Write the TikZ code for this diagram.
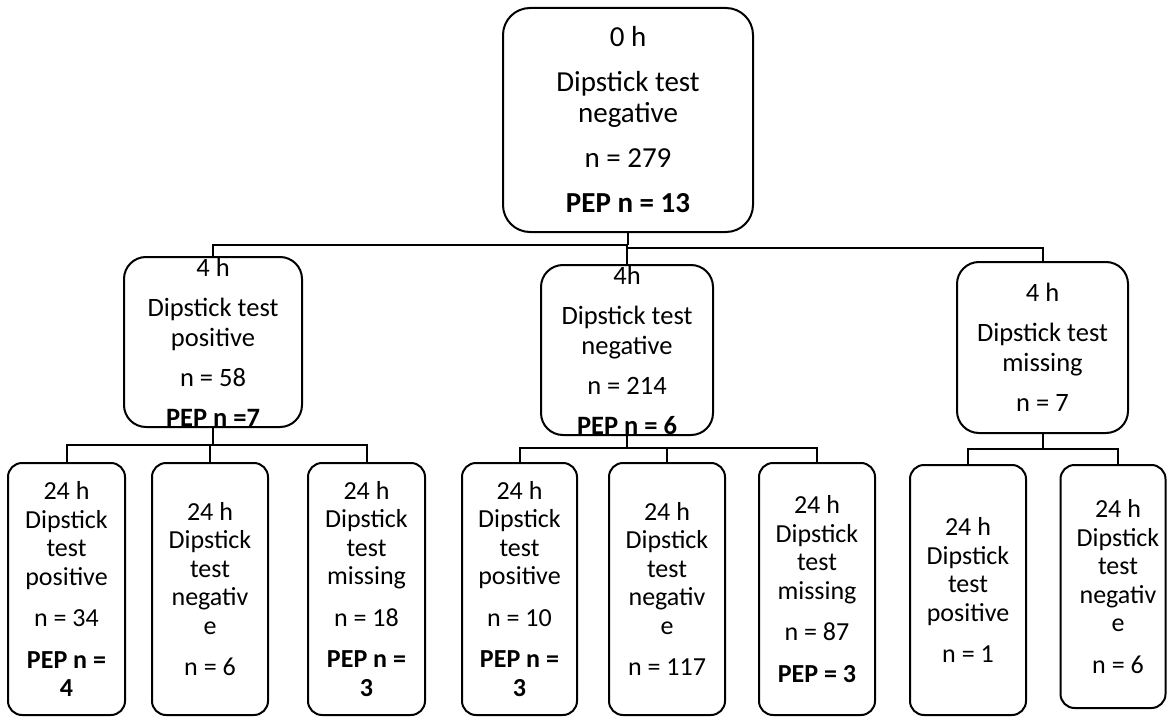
\documentclass[tikz,border=0pt]{standalone}
\usepackage{fontspec}
\setmainfont{Carlito}
\begin{document}
\begin{tikzpicture}[x=1pt,y=-1pt,
  box/.style={draw, line width=2pt, inner sep=0pt},
  bigbox/.style={box, rounded corners=27pt},
  midbox/.style={box, rounded corners=22pt},
  smallbox/.style={box, rounded corners=14pt},
  toptxt/.style={align=center, inner sep=0pt, font=\fontsize{29}{31}\selectfont},
  midtxt/.style={align=center, inner sep=0pt, font=\fontsize{26.5}{30}\selectfont},
  lowtxt/.style={align=center, inner sep=0pt, font=\fontsize{26}{28.5}\selectfont},
  link/.style={line width=2pt}]
\useasboundingbox (0,0) rectangle (1168,717);

% boxes
\node[bigbox, minimum width=250pt, minimum height=224pt] (top) at (628,120) {};
\node[midbox, minimum width=178pt, minimum height=170pt] (L4) at (213,342) {};
\node[midbox, minimum width=172pt, minimum height=170pt] (M4) at (627,350) {};
\node[midbox, minimum width=171pt, minimum height=171pt] (R4) at (1042.5,347.5) {};
\node[smallbox, minimum width=117pt, minimum height=252pt] (B1) at (66.5,589) {};
\node[smallbox, minimum width=116pt, minimum height=252pt] (B2) at (210,589) {};
\node[smallbox, minimum width=117pt, minimum height=252pt] (B3) at (366.5,589) {};
\node[smallbox, minimum width=115pt, minimum height=252pt] (B4) at (519.5,589) {};
\node[smallbox, minimum width=116pt, minimum height=252pt] (B5) at (667,589) {};
\node[smallbox, minimum width=116pt, minimum height=252pt] (B6) at (817,589) {};
\node[smallbox, minimum width=116pt, minimum height=250pt] (B7) at (968,590) {};
\node[smallbox, minimum width=105pt, minimum height=243pt] (B8) at (1113,586.5) {};

% texts
\node[toptxt] (ttop) at (top.center) {0 h\\[14pt]Dipstick test\\negative\\[14pt]n = 279\\[14pt]\textbf{PEP n = 13}};
\node[midtxt] (tL4) at (L4.center) {4 h\\[10pt]Dipstick test\\positive\\[10pt]n = 58\\[10pt]\textbf{PEP n =7}};
\node[midtxt] (tM4) at (M4.center) {4h\\[10pt]Dipstick test\\negative\\[10pt]n = 214\\[10pt]\textbf{PEP n = 6}};
\node[midtxt] (tR4) at (R4.center) {4 h\\[10pt]Dipstick test\\missing\\[10pt]n = 7};
\node[lowtxt] (t1) at (B1.center) {24 h\\Dipstick\\test\\positive\\[13pt]n = 34\\[13pt]\textbf{PEP n =}\\\textbf{4}};
\node[lowtxt] (t2) at (B2.center) {24 h\\Dipstick\\test\\negativ\\e\\[13pt]n = 6};
\node[lowtxt] (t3) at (B3.center) {24 h\\Dipstick\\test\\missing\\[13pt]n = 18\\[13pt]\textbf{PEP n =}\\\textbf{3}};
\node[lowtxt] (t4) at (B4.center) {24 h\\Dipstick\\test\\positive\\[13pt]n = 10\\[13pt]\textbf{PEP n =}\\\textbf{3}};
\node[lowtxt] (t5) at (B5.center) {24 h\\Dipstick\\test\\negativ\\e\\[13pt]n = 117};
\node[lowtxt] (t6) at (B6.center) {24 h\\Dipstick\\test\\missing\\[13pt]n = 87\\[13pt]\textbf{PEP = 3}};
\node[lowtxt] (t7) at (B7.center) {24 h\\Dipstick\\test\\positive\\[13pt]n = 1};
\node[lowtxt] (t8) at ([xshift=5pt]B8.center) {24 h\\Dipstick\\test\\negativ\\e\\[13pt]n = 6};

% connectors: top level
\coordinate (y1) at (0,245);
\coordinate (y2) at (0,248);
\coordinate (j1) at (top.south |- y1);
\coordinate (j2) at (M4.north |- y2);
\draw[link] (top.south) -- (j1);
\draw[link] (L4.north) |- (j1);
\draw[link] (M4.north) -- (M4.north |- y1);
\draw[link] (j2) -| (R4.north);

% connectors: left group
\coordinate (yL) at (0,445);
\coordinate (jL) at (L4.south |- yL);
\draw[link] (L4.south) -- (jL);
\draw[link] (B1.north) |- (jL) -| (B3.north);
\draw[link] (B2.north) -- (B2.north |- yL);

% connectors: middle group
\coordinate (yM) at (0,448);
\coordinate (jM) at (M4.south |- yM);
\draw[link] (M4.south) -- (jM);
\draw[link] (B4.north) |- (jM) -| (B6.north);
\draw[link] (B5.north) -- (B5.north |- yM);

% connectors: right group
\coordinate (yR) at (0,449);
\coordinate (jR) at (R4.south |- yR);
\draw[link] (R4.south) -- (jR);
\draw[link] (B7.north) |- (jR) -| ([xshift=5pt]B8.north);
\end{tikzpicture}
\end{document}
